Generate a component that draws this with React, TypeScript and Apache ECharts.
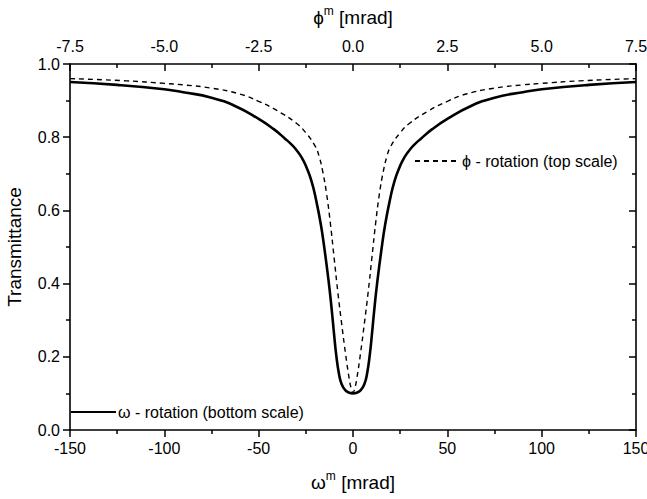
import React, { useEffect, useRef } from "react";
import * as echarts from "echarts";

// ω-rotation (bottom scale), ω in mrad
const omegaX = [-150, -125, -100, -90, -75, -62, -50, -42, -36, -32, -30, -28, -26.5, -25, -22, -19.5, -17, -15, -13, -11.5, -10, -9, -7.5, -6, -4, -2, 0, 2, 4, 6, 7.5, 9, 10, 11.5, 13, 15, 17, 19.5, 22, 25, 26.5, 28, 30, 32, 36, 42, 50, 62, 75, 90, 100, 125, 150];
const omegaT = [0.951, 0.943, 0.931, 0.923, 0.908, 0.884, 0.85, 0.822, 0.796, 0.777, 0.765, 0.751, 0.738, 0.722, 0.68, 0.627, 0.56, 0.49, 0.41, 0.34, 0.26, 0.21, 0.155, 0.125, 0.108, 0.102, 0.1, 0.102, 0.108, 0.125, 0.155, 0.21, 0.26, 0.34, 0.41, 0.49, 0.56, 0.627, 0.68, 0.722, 0.738, 0.751, 0.765, 0.777, 0.796, 0.822, 0.85, 0.884, 0.908, 0.923, 0.931, 0.943, 0.951];

// φ-rotation (top scale), φ in mrad
const phiX = [-7.5, -6, -5, -4.5, -3.75, -3, -2.5, -2, -1.5, -1.25, -1, -0.9, -0.8, -0.7, -0.6, -0.5, -0.4, -0.3, -0.2, -0.1, -0.05, 0, 0.05, 0.1, 0.2, 0.3, 0.4, 0.5, 0.6, 0.7, 0.8, 0.9, 1, 1.25, 1.5, 2, 2.5, 3, 3.75, 4.5, 5, 6, 7.5];
const phiT = [0.96, 0.954, 0.947, 0.943, 0.934, 0.918, 0.898, 0.872, 0.838, 0.812, 0.775, 0.748, 0.705, 0.645, 0.565, 0.47, 0.375, 0.29, 0.21, 0.14, 0.115, 0.102, 0.115, 0.14, 0.21, 0.29, 0.375, 0.47, 0.565, 0.645, 0.705, 0.748, 0.775, 0.812, 0.838, 0.872, 0.898, 0.918, 0.934, 0.943, 0.947, 0.954, 0.96];

const omegaName = "ω - rotation (bottom scale)";
const phiName = "ϕ - rotation (top scale)";

const FONT = "'Liberation Sans', Arial, Helvetica, sans-serif";

export default function App() {
  const ref = useRef<HTMLDivElement>(null);
  useEffect(() => {
    if (!ref.current) return;
    const chart = echarts.init(ref.current, undefined, { renderer: "svg" });
    const axisLine = { show: true, onZero: false, lineStyle: { color: "#000", width: 1.6 } };
    const label = { color: "#000", fontSize: 16, fontFamily: FONT };
    const tick = (inside: boolean) => ({ show: true, inside, length: 7, lineStyle: { color: "#000", width: 1.5 } });
    const minor = { show: true, splitNumber: 2, length: 4, lineStyle: { color: "#000", width: 1.5 } };
    const nameRich = {
      a: { fontSize: 19, fontFamily: FONT, color: "#000" },
      s: { fontSize: 12, fontFamily: FONT, color: "#000", padding: [0, 0, 12, 0] },
    };
    const legendCommon = {
      itemWidth: 45,
      itemHeight: 14,
      padding: 0,
      itemStyle: { opacity: 0 },
      textStyle: { color: "#000", fontSize: 16, fontFamily: FONT, padding: [0, 0, 0, -3] },
    };
    chart.setOption({
      animation: false,
      backgroundColor: "#fff",
      textStyle: { fontFamily: FONT },
      grid: { left: 70, right: 11, top: 64, bottom: 69, containLabel: false, outerBoundsMode: "none" },
      legend: [
        { ...legendCommon, data: [omegaName], left: 70, top: 404 },
        { ...legendCommon, data: [phiName], left: 414, top: 153 },
      ],
      xAxis: [
        {
          type: "value",
          position: "bottom",
          min: -150,
          max: 150,
          interval: 50,
          axisLine,
          axisTick: tick(false),
          minorTick: minor,
          splitLine: { show: false },
          axisLabel: { ...label, margin: 10, formatter: (v: number) => String(v) },
          name: "{a|ω}{s|m}{a| [mrad]}",
          nameLocation: "middle",
          nameGap: 40,
          nameTextStyle: { rich: nameRich },
        },
        {
          type: "value",
          position: "top",
          min: -7.5,
          max: 7.5,
          interval: 2.5,
          axisLine,
          axisTick: tick(true),
          minorTick: minor,
          splitLine: { show: false },
          axisLabel: { ...label, margin: 10, formatter: (v: number) => v.toFixed(1) },
          name: "{a|ϕ}{s|m}{a| [mrad]}",
          nameLocation: "middle",
          nameGap: 35,
          nameTextStyle: { rich: nameRich },
        },
      ],
      yAxis: [
        {
          type: "value",
          position: "left",
          min: 0,
          max: 1,
          interval: 0.2,
          axisLine,
          axisTick: tick(false),
          minorTick: minor,
          splitLine: { show: false },
          axisLabel: { ...label, margin: 10, formatter: (v: number) => v.toFixed(1) },
          name: "Transmittance",
          nameLocation: "middle",
          nameGap: 46,
          nameTextStyle: { color: "#000", fontSize: 19, fontFamily: FONT },
        },
        {
          type: "value",
          position: "right",
          min: 0,
          max: 1,
          interval: 0.2,
          axisLine,
          axisTick: tick(true),
          minorTick: minor,
          splitLine: { show: false },
          axisLabel: { show: false },
        },
      ],
      series: [
        {
          name: omegaName,
          type: "line",
          xAxisIndex: 0,
          yAxisIndex: 0,
          data: omegaX.map((x, i) => [x, omegaT[i]]),
          smooth: 0.5,
          symbol: "none",
          lineStyle: { color: "#000", width: 2.6 },
          itemStyle: { color: "#000" },
        },
        {
          name: phiName,
          type: "line",
          xAxisIndex: 1,
          yAxisIndex: 0,
          data: phiX.map((x, i) => [x, phiT[i]]),
          smooth: 0.5,
          symbol: "none",
          lineStyle: { color: "#000", width: 1.4, type: [5, 4] },
          itemStyle: { color: "#000" },
        },
      ],
    });
    return () => chart.dispose();
  }, []);
  return <div ref={ref} style={{ position: "absolute", left: 0, top: 0, width: 647, height: 499 }} />;
}
